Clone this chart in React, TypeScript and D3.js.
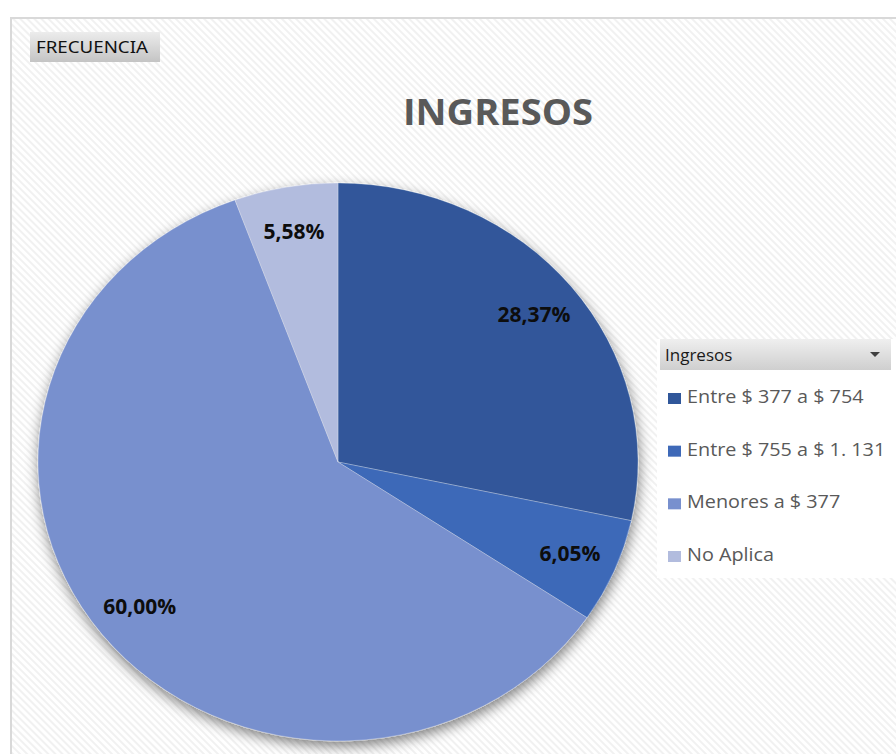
import React from "react";
import * as d3 from "d3";

const categories = ["Entre $ 377 a $ 754", "Entre $ 755 a $ 1. 131", "Menores a $ 377", "No Aplica"];
const values = [28.37, 6.05, 60.0, 5.58];
const labels = ["28,37%", "6,05%", "60,00%", "5,58%"];
const colors = ["#30579A", "#3E69B8", "#7890CE", "#B2BCDE"];
const title = "INGRESOS";
const fieldButton = "FRECUENCIA";
const legendTitle = "Ingresos";

const W = 896;
const H = 754;
const cx = 338;
const cy = 462;
const rx = 300;
const ry = 279;

export default function App() {
  const pie = d3.pie<number>().sort(null).value((d) => d).startAngle(0).endAngle(2 * Math.PI);
  const arcs = pie(values);
  const arc = d3.arc<d3.PieArcDatum<number>>().innerRadius(0).outerRadius(rx);
  const labelArc = d3.arc<d3.PieArcDatum<number>>().innerRadius(rx * 0.84).outerRadius(rx * 0.84);
  const sy = ry / rx;
  const legendY = d3.scalePoint<string>().domain(categories).range([403, 561]);

  return (
    <svg width={W} height={H} style={{ position: "absolute", left: 0, top: 0, fontFamily: "'Open Sans', sans-serif" }}>
      <defs>
        <pattern id="hatch" width="5" height="5" patternUnits="userSpaceOnUse" patternTransform="rotate(-45)">
          <rect width="5" height="5" fill="#ffffff" />
          <rect width="2" height="5" fill="#f1f1f1" />
        </pattern>
        <linearGradient id="btn" x1="0" y1="0" x2="0" y2="1">
          <stop offset="0" stopColor="#ececec" />
          <stop offset="1" stopColor="#c4c4c4" />
        </linearGradient>
        <linearGradient id="hdr" x1="0" y1="0" x2="0" y2="1">
          <stop offset="0" stopColor="#efefef" />
          <stop offset="1" stopColor="#cfcfcf" />
        </linearGradient>
        <filter id="shadow" x="-20%" y="-20%" width="140%" height="140%">
          <feGaussianBlur in="SourceAlpha" stdDeviation="7" />
          <feOffset dx="1" dy="5" result="b" />
          <feComponentTransfer>
            <feFuncA type="linear" slope="0.5" />
          </feComponentTransfer>
          <feMerge>
            <feMergeNode />
            <feMergeNode in="SourceGraphic" />
          </feMerge>
        </filter>
      </defs>
      <rect x={0} y={0} width={W} height={H} fill="#ffffff" />
      <rect x={11} y={18} width={W} height={H} fill="url(#hatch)" stroke="#d9d9d9" strokeWidth={2} />

      <rect x={30} y={32} width={130} height={30} fill="url(#btn)" />
      <text x={36} y={53} fontSize={17} fill="#111" textLength={112} lengthAdjust="spacingAndGlyphs"
        style={{ fontFamily: "'Noto Sans', sans-serif" }}>{fieldButton}</text>

      <text x={498} y={125} textAnchor="middle" fontSize={36} fontWeight={700} fill="#595959"
        textLength={190} lengthAdjust="spacingAndGlyphs">{title}</text>

      <g transform={`translate(${cx},${cy}) scale(1,${sy})`} filter="url(#shadow)">
        {arcs.map((a, i) => (
          <path key={i} d={arc(a) || ""} fill={colors[i]} stroke="#ffffff" strokeOpacity={0.35} strokeWidth={0.8} />
        ))}
      </g>
      <g transform={`translate(${cx},${cy})`}>
        {arcs.map((a, i) => {
          const [x, y] = labelArc.centroid(a);
          return (
            <text key={i} x={x} y={y * sy} dy="0.35em" textAnchor="middle" fontSize={21} fontWeight={700}
              fill="#0d0d0d">{labels[i]}</text>
          );
        })}
      </g>

      <rect x={657} y={339} width={239} height={239} fill="#ffffff" />
      <rect x={660} y={339} width={231} height={31} fill="url(#hdr)" />
      <text x={665} y={361} fontSize={17} fill="#1a1a1a">{legendTitle}</text>
      <path d="M870,352 L880,352 L875,357 Z" fill="#404040" />
      {categories.map((c, i) => (
        <g key={c} transform={`translate(0,${legendY(c)})`}>
          <rect x={668} y={-10} width={13} height={11} fill={colors[i]} />
          <text transform="translate(687,0) scale(1.1,1)" x={0} y={0} fontSize={18} fill="#595959">{c}</text>
        </g>
      ))}
    </svg>
  );
}
